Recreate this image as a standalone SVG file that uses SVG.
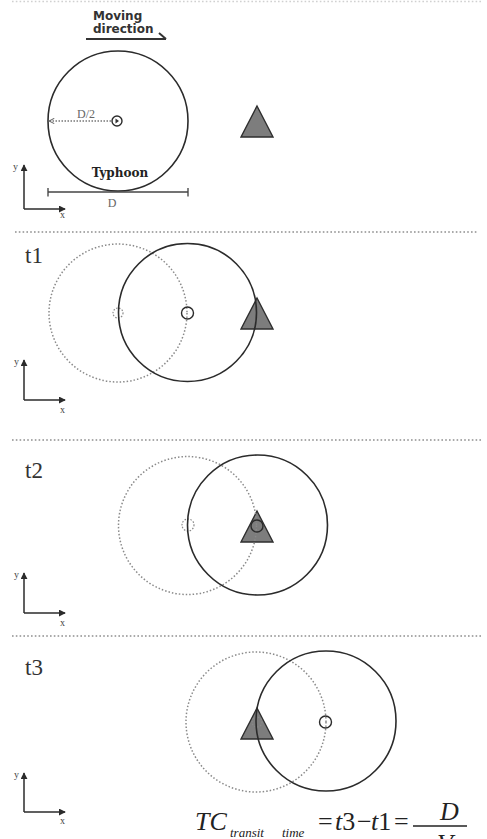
<svg xmlns="http://www.w3.org/2000/svg" xmlns:xlink="http://www.w3.org/1999/xlink" width="487" height="839" viewBox="0 0 487 839">
  <style>
    .solid { fill: none; stroke: #2b2b2b; stroke-width: 1.6; }
    .dotted { fill: none; stroke: #8a8a8a; stroke-width: 1.5; stroke-dasharray: 1.5 2; }
    .center { fill: none; stroke: #2b2b2b; stroke-width: 1.4; }
    .center-dot { fill: none; stroke: #8a8a8a; stroke-width: 1.2; stroke-dasharray: 1.5 1.5; }
    .station { fill: #7d7d7d; stroke: #2e2e2e; stroke-width: 1.4; stroke-linejoin: miter; }
    .sep { stroke: #8e8e8e; stroke-width: 1.6; stroke-dasharray: 1.6 2.2; fill: none; }
    .axis { stroke: #2b2b2b; stroke-width: 1.5; fill: none; }
    .axlbl { font-family: "Liberation Serif", serif; font-size: 10px; fill: #444; }
    .tlbl { font-family: "Liberation Serif", serif; font-size: 23px; fill: #333; }
    .math { font-family: "Liberation Serif", serif; font-size: 26px; fill: #222; }
    .sub { font-family: "Liberation Serif", serif; font-size: 13px; font-style: italic; fill: #222; }
  </style>
  <defs>
    <marker id="axArrow" viewBox="0 0 8 8" refX="7" refY="4" markerWidth="7" markerHeight="7" markerUnits="userSpaceOnUse" orient="auto">
      <path d="M0,0 L8,4 L0,8 Z" fill="#2b2b2b"/>
    </marker>
    <marker id="halfArrow" viewBox="0 0 8 8" refX="7" refY="4" markerWidth="7" markerHeight="7" markerUnits="userSpaceOnUse" orient="auto">
      <path d="M1,1 L7,4 L1,7" fill="none" stroke="#666" stroke-width="1.2"/>
    </marker>
    <marker id="tick" viewBox="0 0 4 10" refX="2" refY="5" markerWidth="4" markerHeight="9" markerUnits="userSpaceOnUse" orient="auto">
      <path d="M2,0 L2,10" stroke="#444" stroke-width="1.5"/>
    </marker>
    <path id="tri" d="M0,0 L16,31 L-16,31 Z"/>
  </defs>

  <rect x="0" y="0" width="487" height="839" fill="#ffffff"/>

  <!-- separators -->
  <g id="separators">
    <line class="sep" x1="12" y1="1.5" x2="483" y2="1.5" style="stroke:#d0d0d0"/>
    <line class="sep" x1="15" y1="232" x2="478" y2="232"/>
    <line class="sep" x1="12" y1="440" x2="483" y2="440"/>
    <line class="sep" x1="12" y1="636" x2="483" y2="636"/>
  </g>

  <!-- Panel 0: legend -->
  <g id="moving-direction">
    <text x="93" y="20" font-family="DejaVu Sans, sans-serif" font-weight="bold" font-size="12" fill="#333">Moving</text>
    <text x="93" y="33" font-family="DejaVu Sans, sans-serif" font-weight="bold" font-size="12" fill="#333">direction</text>
  </g>
  <g id="typhoon-0">
    <circle class="solid" cx="118" cy="121" r="70"/>
    <circle class="center" cx="117" cy="121" r="5"/>
    <path d="M115.5,118.5 L119,121 L115.5,123.5 Z" fill="#333"/>
    <text x="86" y="118" text-anchor="middle" font-family="Liberation Serif, serif" font-size="12" fill="#666">D/2</text>
    <text x="120" y="177" text-anchor="middle" font-family="DejaVu Serif, serif" font-weight="bold" font-size="12" fill="#222">Typhoon</text>
    <text x="112" y="207" text-anchor="middle" font-family="Liberation Serif, serif" font-size="12" fill="#666">D</text>
  </g>
  <g id="station-0">
    <use xlink:href="#tri" href="#tri" class="station" x="257" y="106"/>
  </g>
  <g id="axes-0">
    <text class="axlbl" x="13" y="170">y</text>
    <text class="axlbl" x="60" y="218">x</text>
  </g>

  <!-- Panel t1 -->
  <g id="label-t1"><text class="tlbl" x="25" y="263">t1</text></g>
  <g id="station-t1">
    <use xlink:href="#tri" href="#tri" class="station" x="257" y="298"/>
  </g>
  <g id="typhoon-t1-previous">
    <circle class="dotted" cx="118" cy="313" r="69"/>
    <circle class="center-dot" cx="118" cy="313" r="5"/>
  </g>
  <g id="typhoon-t1">
    <circle class="solid" cx="187.5" cy="312.5" r="69"/>
    <circle class="center" cx="187.5" cy="313" r="6"/>
  </g>
  <g id="axes-t1">
    <text class="axlbl" x="14" y="365">y</text>
    <text class="axlbl" x="60" y="413">x</text>
  </g>

  <!-- Panel t2 -->
  <g id="label-t2"><text class="tlbl" x="25" y="478">t2</text></g>
  <g id="station-t2">
    <use xlink:href="#tri" href="#tri" class="station" x="257" y="511"/>
  </g>
  <g id="typhoon-t2-previous">
    <circle class="dotted" cx="187.5" cy="525.5" r="69"/>
    <circle class="center-dot" cx="188" cy="525" r="6"/>
  </g>
  <g id="typhoon-t2">
    <circle class="solid" cx="257.5" cy="525" r="70"/>
    <circle class="center" cx="257" cy="526" r="6"/>
  </g>
  <g id="axes-t2">
    <text class="axlbl" x="14" y="578">y</text>
    <text class="axlbl" x="60" y="626">x</text>
  </g>

  <!-- Panel t3 -->
  <g id="label-t3"><text class="tlbl" x="25" y="675">t3</text></g>
  <g id="station-t3">
    <use xlink:href="#tri" href="#tri" class="station" x="257" y="708"/>
  </g>
  <g id="typhoon-t3-previous">
    <circle class="dotted" cx="256" cy="722" r="70"/>
    <circle class="center-dot" cx="257" cy="722" r="5"/>
  </g>
  <g id="typhoon-t3">
    <circle class="solid" cx="326" cy="721" r="70"/>
    <circle class="center" cx="325.5" cy="722" r="6"/>
  </g>
  <g id="axes-t3">
    <text class="axlbl" x="14" y="778">y</text>
    <text class="axlbl" x="60" y="824">x</text>
  </g>

  <!-- formula -->
  <g id="formula">
    <text class="math" x="195" y="830" font-style="italic">TC</text>
    <text class="sub" x="230" y="837">transit</text>
    <text class="sub" x="282" y="837">time</text>
    <text class="math" x="318" y="830">=</text>
    <text class="math" x="335" y="830"><tspan font-style="italic">t</tspan>3</text>
    <text class="math" x="357" y="830">−</text>
    <text class="math" x="371" y="830"><tspan font-style="italic">t</tspan>1</text>
    <text class="math" x="394" y="830">=</text>
    <text class="math" x="440" y="820" font-style="italic">D</text>
    <line x1="413" y1="826" x2="467" y2="826" stroke="#222" stroke-width="1.4"/>
    <text class="math" x="437" y="852" font-style="italic">V</text>
  </g>

  <!-- connectors -->
  <g id="connectors">
    <path d="M86,39 L166,39" stroke="#333" stroke-width="2" fill="none"/>
    <path d="M159,33 L166,39" stroke="#333" stroke-width="2" fill="none"/>
    <line x1="111" y1="121" x2="49" y2="121" stroke="#777" stroke-width="1.3" stroke-dasharray="1.5 1.5" marker-end="url(#halfArrow)"/>
    <line x1="48" y1="192" x2="188" y2="192" stroke="#444" stroke-width="1.4" marker-start="url(#tick)" marker-end="url(#tick)"/>
    <polyline class="axis" points="24,209 24,165" marker-end="url(#axArrow)"/>
    <polyline class="axis" points="24,209 65,209" marker-end="url(#axArrow)"/>
    <polyline class="axis" points="24,400 24,360" marker-end="url(#axArrow)"/>
    <polyline class="axis" points="24,400 65,400" marker-end="url(#axArrow)"/>
    <polyline class="axis" points="24,613 24,573" marker-end="url(#axArrow)"/>
    <polyline class="axis" points="24,613 65,613" marker-end="url(#axArrow)"/>
    <polyline class="axis" points="24,812 24,773" marker-end="url(#axArrow)"/>
    <polyline class="axis" points="24,812 65,812" marker-end="url(#axArrow)"/>
  </g>
</svg>
